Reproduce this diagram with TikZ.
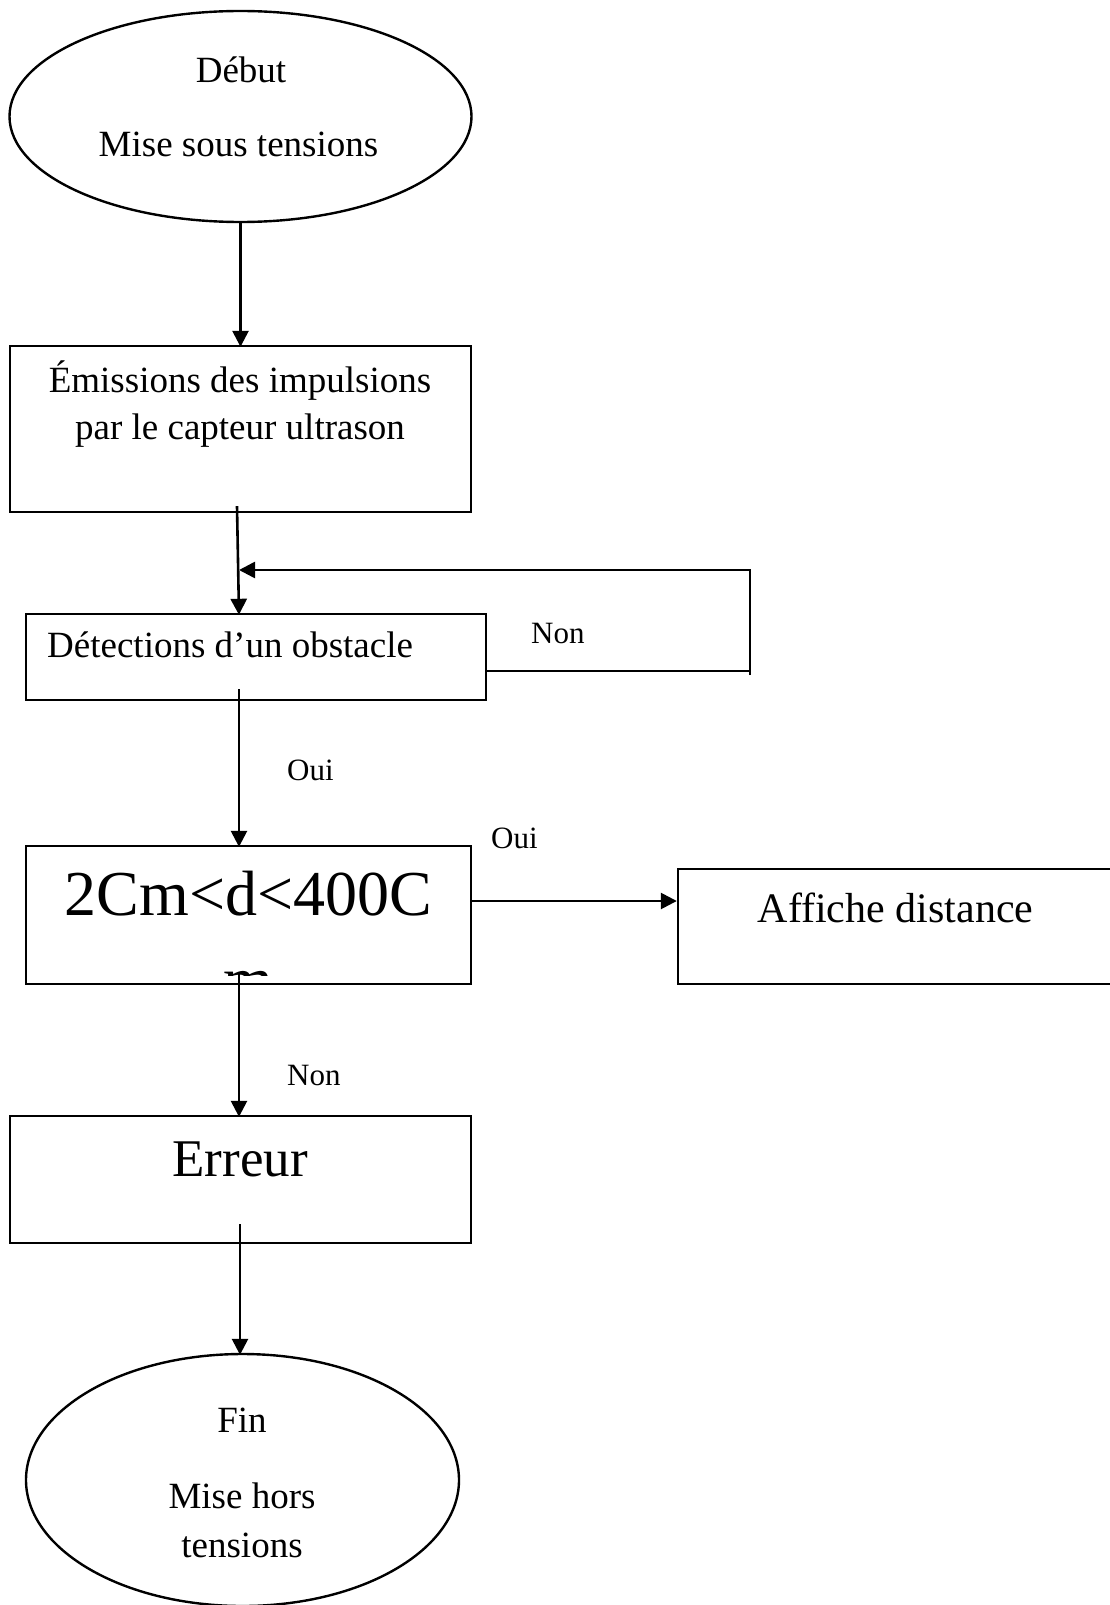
\documentclass[tikz,border=0pt]{standalone}
\usepackage{fontspec}
\setmainfont{Liberation Serif}
\usetikzlibrary{shapes.geometric,arrows.meta}
\begin{document}
\begin{tikzpicture}[x=1pt,y=-1pt,
  shapeline/.style={draw=black, line width=2.4pt},
  boxnode/.style={shapeline, rectangle, inner sep=0pt},
  ovalnode/.style={shapeline, ellipse, inner sep=0pt},
  flow/.style={line width=2.6pt, -{Triangle[length=16pt,width=16pt]}},
  plainline/.style={line width=2.6pt},
  txt/.style={anchor=base, inner sep=0pt, font=\fontsize{37}{44}\selectfont},
  txtw/.style={anchor=base west, inner sep=0pt, font=\fontsize{37}{44}\selectfont},
  lbl/.style={anchor=base west, inner sep=0pt, font=\fontsize{31}{37}\selectfont},
]
\useasboundingbox (0,0) rectangle (1110,1605);

% shapes
\node[ovalnode, minimum width=462pt, minimum height=211pt] (start) at (240.5,116.5) {};
\node[boxnode, minimum width=461pt, minimum height=166pt] (box1) at (240.5,429) {};
\node[boxnode, minimum width=460pt, minimum height=86pt] (box2) at (256,657) {};
\node[boxnode, minimum width=445pt, minimum height=138pt] (box3) at (248.5,915) {};
\node[boxnode, minimum width=440pt, minimum height=115pt] (box4) at (898,926.5) {};
\node[boxnode, minimum width=461pt, minimum height=127pt] (box5) at (240.5,1179.5) {};
\node[ovalnode, minimum width=433pt, minimum height=252pt] (end) at (242.5,1480) {};

% texts
\node[txt] (t1) at (241,83) {Début};
\node[txt] (t2) at (238.5,157) {Mise sous tensions};
\node[txt] (t3) at (240,392) {Émissions des impulsions};
\node[txt] (t4) at (240,439) {par le capteur ultrason};
\node[txtw] (t5) at (47,657) {Détections d’un obstacle};
\node[anchor=base, inner sep=0pt, font=\fontsize{64}{74}\selectfont] (t6) at (248.5,915) {2Cm<d<400C};
\begin{scope}
  \clip (210,970) rectangle (285,975);
  \node[anchor=base, inner sep=0pt, font=\fontsize{64}{74}\selectfont] (t6b) at (248.5,1001) {m};
\end{scope}
\node[anchor=base, inner sep=0pt, font=\fontsize{42}{50}\selectfont] (t7) at (895.5,922) {Affiche distance};
\node[anchor=base, inner sep=0pt, font=\fontsize{53}{62}\selectfont] (t8) at (240,1176) {Erreur};
\node[txt] (t9) at (242,1432) {Fin};
\node[txt] (t10) at (242,1508) {Mise hors};
\node[txt] (t11) at (242,1557) {tensions};

% labels
\node[lbl] (lnon1) at (531,643) {Non};
\node[lbl] (loui1) at (287,780) {Oui};
\node[lbl] (loui2) at (491,848) {Oui};
\node[lbl] (lnon2) at (287,1085) {Non};

% connectors
\draw[flow] (start.south) -- ([yshift=-2pt]box1.north);
\draw[flow] ([xshift=-3.5pt,yshift=7pt]box1.south) -- ([xshift=-17pt,yshift=-2pt]box2.north);
\coordinate (loopcorner) at (750,671);
\coordinate (loopbottom) at (750,675);
\coordinate (looptop) at (750,570);
\coordinate (loopend) at (239,570);
\draw[plainline] ([yshift=-14pt]box2.east) -- (loopcorner);
\draw[flow] (loopbottom) -- (looptop) -- (loopend);
\draw[flow] ([xshift=-17pt,yshift=12pt]box2.south) -- ([xshift=-9.5pt,yshift=-2pt]box3.north);
\draw[flow] ([yshift=14pt]box3.east) -- ([yshift=25.5pt]box4.west);
\draw[flow] ([xshift=-9.5pt,yshift=11pt]box3.south) -- ([xshift=-1.5pt,yshift=-2pt]box5.north);
\draw[flow] ([xshift=-0.5pt,yshift=20pt]box5.south) -- ([xshift=-2.5pt,yshift=-2pt]end.north);
\end{tikzpicture}
\end{document}
